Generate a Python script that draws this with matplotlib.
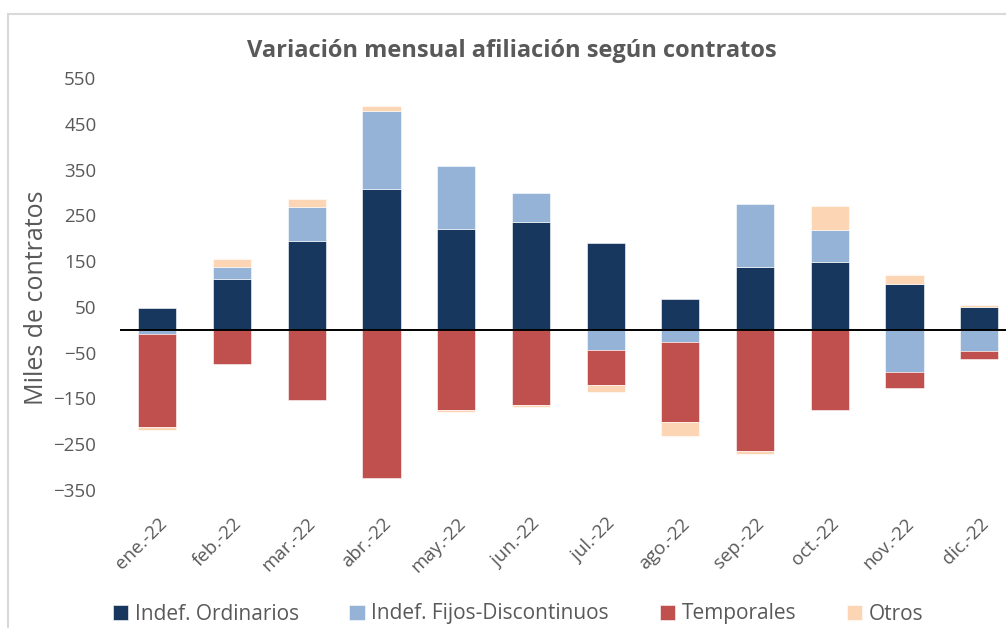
import matplotlib
matplotlib.use("Agg")
import matplotlib.pyplot as plt
import numpy as np
from matplotlib.patches import Rectangle

plt.rcParams['font.family'] = ['Open Sans', 'DejaVu Sans']

months = ["ene.-22", "feb.-22", "mar.-22", "abr.-22", "may.-22", "jun.-22",
          "jul.-22", "ago.-22", "sep.-22", "oct.-22", "nov.-22", "dic.-22"]
ordinarios = [48, 111, 195, 307, 220, 236, 189, 68, 138, 147, 99, 49]
fijos_disc = [-10, 27, 74, 171, 137, 63, -44, -27, 137, 72, -92, -47]
temporales = [-203, -74, -153, -324, -175, -164, -76, -174, -265, -175, -36, -17]
otros = [-7, 17, 16, 11, -5, -5, -16, -31, -6, 51, 20, 6]

series = [("Indef. Ordinarios", ordinarios, "#17375E"),
          ("Indef. Fijos-Discontinuos", fijos_disc, "#95B3D7"),
          ("Temporales", temporales, "#C0504D"),
          ("Otros", otros, "#FCD5B5")]

W, H = 1006, 628
fig = plt.figure(figsize=(W / 100, H / 100), dpi=100)
fig.patch.set_facecolor("white")

# outer chart border
fig.add_artist(Rectangle((7.5 / W, -0.01), 1.05, (H - 13.5) / H + 0.01,
                         transform=fig.transFigure, fill=False,
                         edgecolor="#D9D9D9", linewidth=1.5))

ax = fig.add_axes([120 / W, (H - 490) / H, 896.6 / W, 412 / H])
x = np.arange(len(months))
pos_base = np.zeros(len(months))
neg_base = np.zeros(len(months))
for name, vals, col in series:
    v = np.array(vals, dtype=float)
    bottoms = np.where(v >= 0, pos_base, neg_base)
    ax.bar(x, v, width=0.51, bottom=bottoms, color=col, label=name,
           edgecolor="white", linewidth=0.4)
    pos_base += np.where(v >= 0, v, 0)
    neg_base += np.where(v < 0, v, 0)

ax.axhline(0, color="black", linewidth=1.4, zorder=5)
ax.set_xlim(-0.5, 11.5)
ax.set_ylim(-350, 550)
ax.set_yticks(np.arange(-350, 551, 100))
ax.tick_params(axis="y", length=0, labelsize=13.5, labelcolor="#595959", pad=17)
ax.set_xticks(x)
ax.set_xticklabels(months, rotation=45, ha="right", va="top",
                   rotation_mode="anchor", fontsize=13.5, color="#595959")
ax.tick_params(axis="x", length=0, pad=0)
for lbl in ax.get_xticklabels():
    lbl.set_y(-0.06)
for s in ax.spines.values():
    s.set_visible(False)
ax.patch.set_alpha(0)

fig.text(37 / W, 1 - 298 / H, "Miles de contratos", rotation=90,
         ha="center", va="center", fontsize=18, color="#595959")
fig.text(512 / W, 1 - 51 / H, "Variación mensual afiliación según contratos",
         ha="center", va="center", fontsize=17, fontweight="bold", color="#595959")

handles, labels = ax.get_legend_handles_labels()
leg = fig.legend(handles, labels, loc="center", bbox_to_anchor=(518 / W, 1 - 614 / H),
                 ncol=4, frameon=False, fontsize=15, handlelength=0.75,
                 handleheight=0.75, handletextpad=0.3, columnspacing=2.43,
                 labelcolor="#595959")

fig.savefig("out.png", dpi=100)
